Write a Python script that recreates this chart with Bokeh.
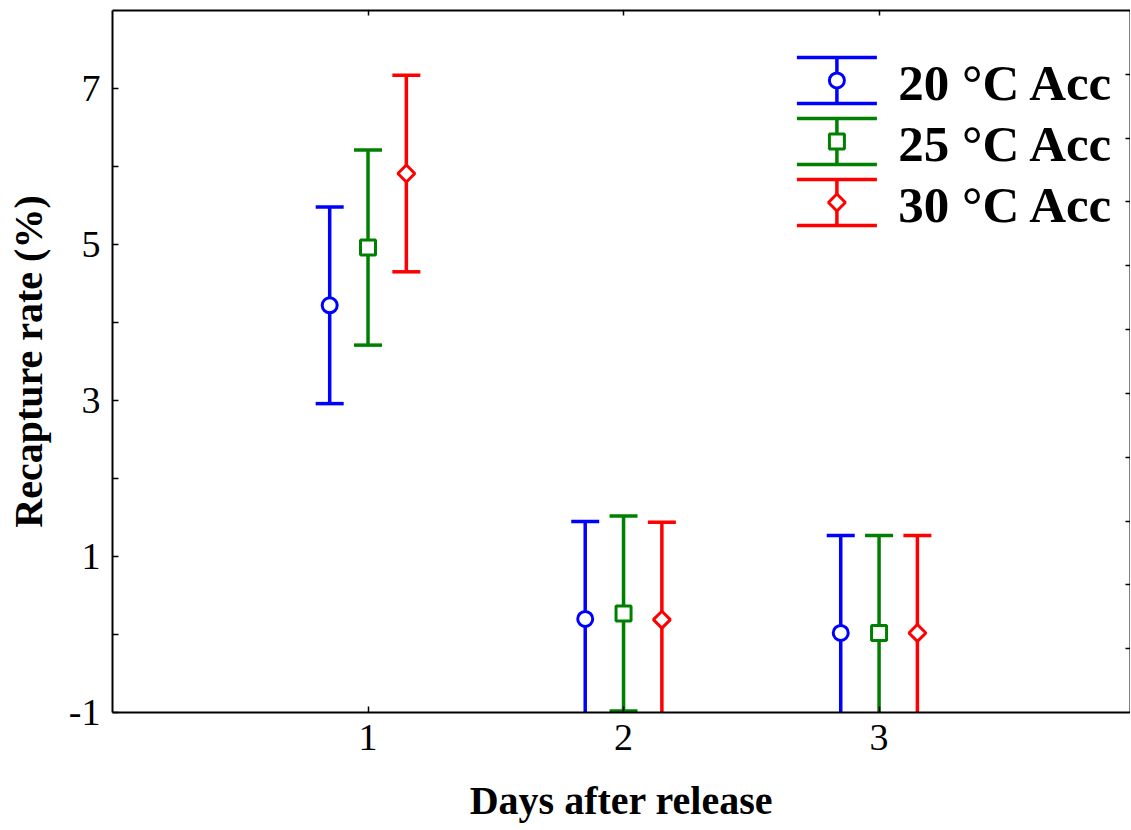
import math
from bokeh.plotting import figure
from bokeh.models import LinearAxis, Range1d, FixedTicker, PrintfTickFormatter
from bokeh.embed import file_html
from bokeh.resources import INLINE
from bokeh.core.properties import value

# ---------------- data ----------------
days = [1, 2, 3]
series = ["20 °C Acc", "25 °C Acc", "30 °C Acc"]
mean_20 = [4.22, 0.20, 0.02]
err_20 = [1.26, 1.25, 1.25]
mean_25 = [4.96, 0.27, 0.02]
err_25 = [1.25, 1.25, 1.25]
mean_30 = [5.91, 0.19, 0.02]
err_30 = [1.26, 1.25, 1.25]
y_ticks_major = [-1, 1, 3, 5, 7]
y_ticks_minor = [0, 2, 4, 6]
x_ticks = [1, 2, 3]
right_ticks = [1, 2, 3, 4, 5, 6, 7, 8, 9, 10]
x_title = "Days after release"
y_title = "Recapture rate (%)"

# ---------------- styling ----------------
FONT = "Liberation Serif"
colors = ["#0000FF", "#008000", "#FF0000"]
offsets = [-0.15, 0.0, 0.15]
markers = ["circle", "square", "square"]
angles = [0.0, 0.0, math.pi / 4]
msizes = [15, 15, 12]
means = [mean_20, mean_25, mean_30]
errs = [err_20, err_25, err_30]

p = figure(width=1130, height=829,
           x_range=Range1d(0, 3.984), y_range=Range1d(-1, 8),
           output_backend="svg", toolbar_location=None,
           x_axis_location=None, y_axis_location=None,
           min_border_left=112, min_border_top=10,
           min_border_right=0, min_border_bottom=117)
p.grid.visible = False
p.outline_line_color = None
p.background_fill_color = "white"
p.border_fill_color = "white"
p.extra_y_ranges = {"r": Range1d(0, 11)}

# left axis
left = LinearAxis(ticker=FixedTicker(ticks=y_ticks_major, minor_ticks=y_ticks_minor),
                  formatter=PrintfTickFormatter(format="%d"),
                  axis_label=y_title)
# bottom axis
bottom = LinearAxis(ticker=FixedTicker(ticks=x_ticks),
                    formatter=PrintfTickFormatter(format="%d"),
                    axis_label=x_title)
for ax in (left, bottom):
    ax.axis_line_width = 2
    ax.axis_line_color = "black"
    ax.major_tick_in = 6
    ax.major_tick_out = 0
    ax.minor_tick_in = 6
    ax.minor_tick_out = 0
    ax.major_tick_line_width = 1.5
    ax.minor_tick_line_width = 1.5
    ax.major_label_text_font = FONT
    ax.major_label_text_font_size = "38px"
    ax.major_label_text_color = "black"
    ax.axis_label_text_font = FONT
    ax.axis_label_text_font_style = "bold"
    ax.axis_label_text_font_size = "40px"
    ax.axis_label_text_color = "black"
left.major_label_standoff = 12
left.axis_label_standoff = 15
bottom.major_label_standoff = 12
bottom.axis_label_standoff = 25
bottom.minor_tick_in = 0

top = LinearAxis(ticker=FixedTicker(ticks=x_ticks))
right = LinearAxis(ticker=FixedTicker(ticks=right_ticks), y_range_name="r")
for ax in (top, right):
    ax.axis_line_width = 2
    ax.axis_line_color = "black"
    ax.major_tick_in = 5
    ax.major_tick_out = 0
    ax.minor_tick_in = 0
    ax.minor_tick_out = 0
    ax.major_tick_line_width = 1.5
    ax.major_label_text_font_size = "1px"
    ax.major_label_text_color = None
    ax.major_label_standoff = 0

p.add_layout(left, "left")
p.add_layout(bottom, "below")
p.add_layout(top, "above")
p.add_layout(right, "right")

# ---------------- data marks ----------------
for i in range(3):
    xs = [d + offsets[i] for d in days]
    lo = [m - e for m, e in zip(means[i], errs[i])]
    hi = [m + e for m, e in zip(means[i], errs[i])]
    p.segment(x0=xs, y0=lo, x1=xs, y1=hi, line_color=colors[i], line_width=3.5)
    p.scatter(x=xs + xs, y=lo + hi, marker="dash", size=28,
              line_color=colors[i], line_width=3.5)
    p.scatter(x=xs, y=means[i], marker=markers[i], size=msizes[i], angle=angles[i],
              fill_color="white", line_color=colors[i], line_width=3)

# ---------------- legend (drawn as keys) ----------------
LEG_X = 2.835      # key centre (data x)
LEG_TX = 3.075     # text start
LEG_Y0 = 7.103     # first row centre
LEG_DY = 0.782     # row spacing
LEG_H = 0.295      # cap half-height
for i in range(3):
    ly = LEG_Y0 - i * LEG_DY
    p.segment(x0=[LEG_X], y0=[ly - LEG_H], x1=[LEG_X], y1=[ly + LEG_H],
              line_color=colors[i], line_width=3.5)
    p.scatter(x=[LEG_X, LEG_X], y=[ly - LEG_H, ly + LEG_H], marker="dash", size=80,
              line_color=colors[i], line_width=3.5)
    p.scatter(x=[LEG_X], y=[ly], marker=markers[i], size=msizes[i], angle=angles[i],
              fill_color="white", line_color=colors[i], line_width=3)
    p.text(x=[LEG_TX], y=[ly], text=[series[i]], text_font=value(FONT),
           text_font_style="bold", text_font_size="51px", text_color="black",
           text_align="left", text_baseline="alphabetic", y_offset=3)

open("out.html", "w").write(file_html(p, INLINE))
